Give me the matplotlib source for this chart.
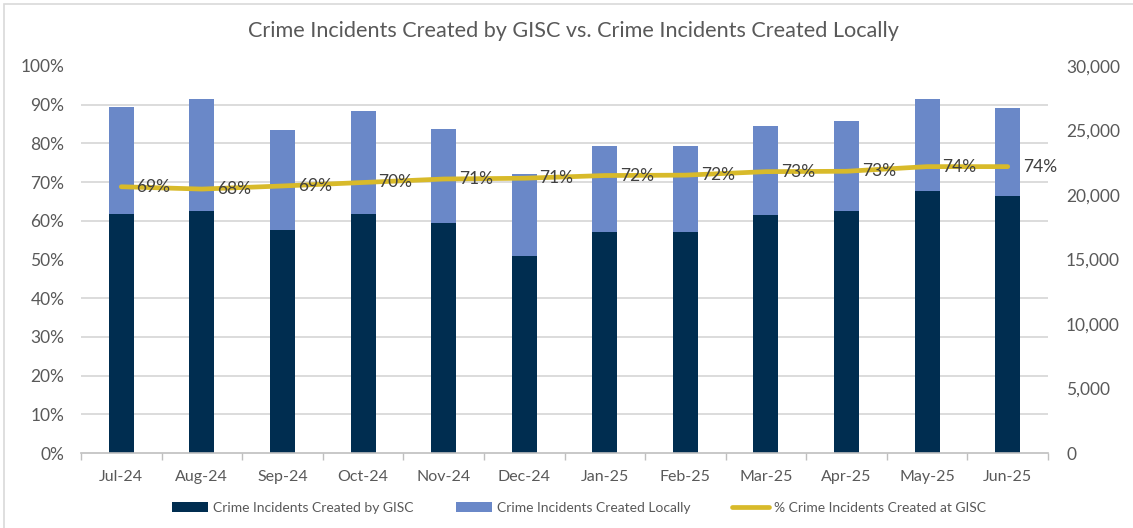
import matplotlib
matplotlib.use("Agg")
import matplotlib.pyplot as plt
from matplotlib.ticker import FixedLocator, MultipleLocator, FuncFormatter
from matplotlib.patches import Rectangle
import numpy as np

months = ["Jul-24", "Aug-24", "Sep-24", "Oct-24", "Nov-24", "Dec-24",
          "Jan-25", "Feb-25", "Mar-25", "Apr-25", "May-25", "Jun-25"]
gisc = [18500, 18760, 17310, 18500, 17830, 15250, 17150, 17150, 18450, 18760, 20290, 19900]
local = [8320, 8710, 7730, 7990, 7260, 6350, 6620, 6620, 6900, 7000, 7130, 6840]
pct = [0.688, 0.682, 0.690, 0.699, 0.708, 0.710, 0.717, 0.718, 0.727, 0.728, 0.740, 0.740]
pct_labels = ["69%", "68%", "69%", "70%", "71%", "71%", "72%", "72%", "73%", "73%", "74%", "74%"]

title = "Crime Incidents Created by GISC vs. Crime Incidents Created Locally"
names = ["Crime Incidents Created by GISC", "Crime Incidents Created Locally",
         "% Crime Incidents Created at GISC"]

plt.rcParams['font.family'] = ['Lato', 'DejaVu Sans']

DARK = "#002D50"
LIGHT = "#6A88C8"
GOLD = "#D8BA2A"
TXT = "#595959"

fig = plt.figure(figsize=(11.33, 5.28), dpi=100)
ax = fig.add_axes([81/1133, 75/528, (1048-81)/1133, (453-66)/528])
ax2 = ax.twinx()

x = np.arange(len(months))
w = 0.31
b1 = ax2.bar(x, gisc, w, color=DARK, zorder=3, label=names[0])
b2 = ax2.bar(x, local, w, bottom=gisc, color=LIGHT, zorder=3, label=names[1])

ax2.set_ylim(0, 30000)
ax2.yaxis.set_major_locator(MultipleLocator(5000))
ax2.yaxis.set_major_formatter(FuncFormatter(lambda v, p: f"{int(v):,}"))
ax2.yaxis.set_minor_locator(MultipleLocator(3000))
ax2.yaxis.grid(True, which='minor', color="#D9D9D9", linewidth=1.3, zorder=0)
ax2.set_axisbelow(True)
ax2.tick_params(axis='y', which='both', length=0, pad=13, labelsize=12.5, labelcolor=TXT)

ax.set_zorder(ax2.get_zorder() + 1)
ax.patch.set_visible(False)
ln, = ax.plot(x, pct, color=GOLD, linewidth=3.4, solid_capstyle='round', zorder=5, label=names[2])
for xi, yi, lab in zip(x, pct, pct_labels):
    ax.annotate(lab, (xi, yi), xytext=(11, 0), textcoords='offset points',
                ha='left', va='center', fontsize=12.5, color="#404040", zorder=6)

ax.set_ylim(0, 1)
ax.yaxis.set_major_locator(MultipleLocator(0.1))
ax.yaxis.set_major_formatter(FuncFormatter(lambda v, p: f"{v*100:.0f}%"))
ax.tick_params(axis='y', length=0, pad=12, labelsize=12.5, labelcolor=TXT)

ax.set_xlim(-0.5, len(months) - 0.5)
ax.set_xticks(x)
ax.set_xticklabels(months)
ax.tick_params(axis='x', length=0, pad=12, labelsize=11.5, labelcolor=TXT)
ax.xaxis.set_minor_locator(FixedLocator(np.arange(-0.5, len(months), 1.0)))
ax.tick_params(axis='x', which='minor', length=5, color="#BFBFBF", width=1)

for a in (ax, ax2):
    for s in ("top", "left", "right"):
        a.spines[s].set_visible(False)
ax2.spines["bottom"].set_visible(False)
ax.spines["bottom"].set_color("#BFBFBF")
ax.spines["bottom"].set_linewidth(1.2)

fig.text(0.506, 1 - 31/528, title, ha='center', va='center', fontsize=15.6, color="#595959")

fig.legend([b1, b2, ln], names, loc='center', bbox_to_anchor=(0.511, 1 - 508/528), ncol=3,
           frameon=False, fontsize=10, labelcolor=TXT, handlelength=2.6, handleheight=0.7,
           columnspacing=3.0, handletextpad=0.4)

fig.patches.append(Rectangle((4/1133, -0.1), 1.2, 1 - 4/528 + 0.1, transform=fig.transFigure,
                             fill=False, edgecolor="#D9D9D9", linewidth=1.2))

fig.savefig("out.png", dpi=100)
